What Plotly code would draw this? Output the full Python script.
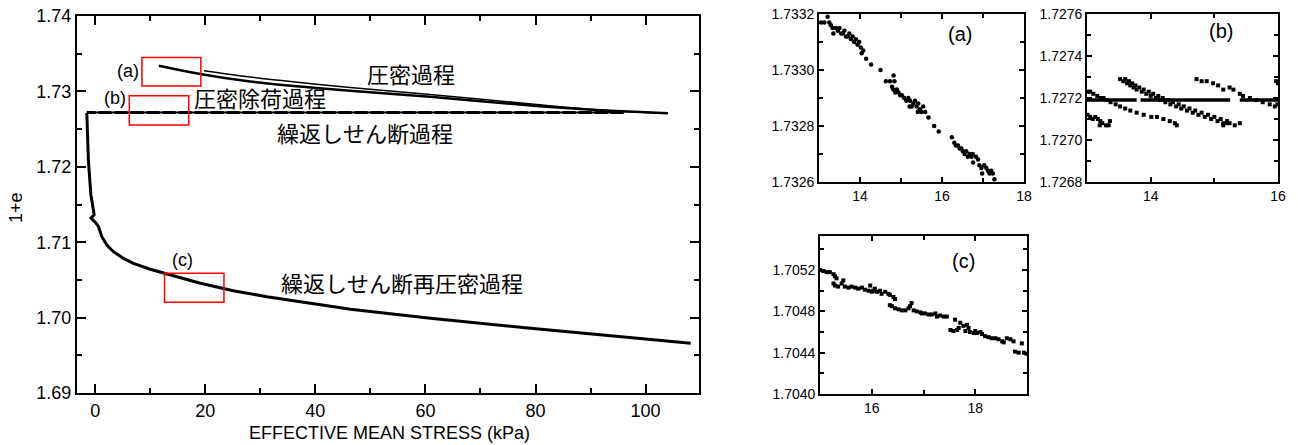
import plotly.graph_objects as go

# ---------------- main chart data ----------------
# consolidation (loading) curve
load_x = [11.57, 19.07, 28.15, 37.23, 46.31, 60.83, 80.21, 91.1, 104.04]
load_y = [1.73341, 1.73231, 1.73131, 1.73065, 1.73009, 1.72930, 1.72806, 1.72753, 1.72710]
# second consolidation line (slightly above)
unload_x = [19.79, 28.15, 37.23, 46.31, 60.83, 80.21, 91.7, 104.04]
unload_y = [1.73275, 1.73191, 1.73118, 1.73052, 1.72959, 1.72826, 1.72753, 1.72710]
# cyclic shear (constant volume)
shear_x = [96.0, -1.52]
shear_y = [1.7272, 1.7272]
# reconsolidation after cyclic shear
recon_x = [-1.52, -1.22, -0.78, -0.18, -0.75, 0.2, 0.6, 1.21, 2.12, 3.32, 5.14, 6.95, 9.99, 13.02,
           19.1, 25.1, 31.2, 46.4, 60.9, 79.1, 97.3, 108.2]
recon_y = [1.72714, 1.72072, 1.7163, 1.71365, 1.7132, 1.7125, 1.71206, 1.71073, 1.70963, 1.70874,
           1.70786, 1.70720, 1.70641, 1.70578, 1.70455, 1.70357, 1.70277, 1.70110, 1.69991, 1.69858,
           1.69739, 1.69659]

# zoom boxes (x0, x1, y0, y1) in data units of the main chart
box_names = ["(a)", "(b)", "(c)"]
box_x0 = [8.5, 6.2, 12.6]
box_x1 = [19.2, 17.0, 23.4]
box_y0 = [1.73073, 1.72555, 1.70204]
box_y1 = [1.73448, 1.72943, 1.70587]

# ---------------- inset (a) ----------------
a_x = [13.05, 13.13, 13.21, 13.25, 13.29, 13.33, 13.35, 13.41, 13.46, 13.50, 13.54, 13.58, 13.62, 13.66,
       13.70, 13.74, 13.78, 13.82, 13.86, 13.90, 13.94, 13.98, 14.02, 14.04, 14.08, 14.15, 14.27, 14.50,
       14.63, 14.73, 14.82, 14.84, 14.78, 14.81, 14.86, 14.90, 14.94, 14.98, 15.02, 15.08, 15.13, 15.18,
       15.22, 15.26, 15.21, 15.30, 15.34, 15.38, 15.42, 15.41, 15.46, 15.50, 15.54, 15.59, 15.67, 15.81,
       15.92, 16.24, 16.30, 16.34, 16.39, 16.43, 16.47, 16.51, 16.55, 16.59, 16.63, 16.67, 16.72, 16.75,
       16.76, 16.83, 16.88, 16.91, 16.96, 16.98, 17.03, 17.08, 17.12, 17.16, 17.20, 17.24, 17.28]
a_y = [1.73317, 1.73317, 1.73319, 1.73317, 1.73316, 1.73315, 1.73313, 1.73315, 1.73314, 1.73315, 1.73313,
       1.73313, 1.73314, 1.73312, 1.73312, 1.73313, 1.73311, 1.73312, 1.73310, 1.73311, 1.73309, 1.73310,
       1.73308, 1.73306, 1.73307, 1.73304, 1.73302, 1.73300, 1.73296, 1.73296, 1.73298, 1.73296, 1.73294,
       1.73293, 1.73292, 1.73293, 1.73292, 1.73291, 1.73291, 1.73290, 1.73289, 1.73290, 1.73289, 1.73287,
       1.73287, 1.73288, 1.73289, 1.73287, 1.73288, 1.73285, 1.73286, 1.73285, 1.73287, 1.73285, 1.73283,
       1.73280, 1.73278, 1.73276, 1.73274, 1.73273, 1.73273, 1.73272, 1.73272, 1.73271, 1.73270, 1.73271,
       1.73269, 1.73270, 1.73269, 1.73270, 1.73267, 1.73269, 1.73268, 1.73266, 1.73265, 1.73263, 1.73266,
       1.73265, 1.73264, 1.73263, 1.73264, 1.73263, 1.73261]

# ---------------- inset (b) ----------------
b_band_x = [13.0, 13.78, None, 13.84, 15.25, None, 15.40, 16.0]
b_band_y = [1.72719, 1.72719, None, 1.72719, 1.72719, None, 1.72719, 1.72719]
b_x = [13.52, 13.57, 13.60, 13.63, 13.66, 13.68, 13.71, 13.73, 13.76, 13.78, 13.82, 13.86, 13.89, 13.93,
       13.97, 14.00, 14.04, 14.08, 14.12, 14.15, 14.19, 14.23, 14.27, 14.31, 14.35, 14.40, 14.44, 14.48,
       14.52, 14.57, 14.61, 14.66, 14.70, 14.75, 14.80, 14.85, 14.90, 14.95, 15.00, 15.05, 15.10, 15.14,
       15.20, 15.24, 15.14, 15.19, 15.32, 15.40,
       14.72, 14.80, 14.88, 14.98, 15.06, 15.14, 15.24, 15.30, 15.40, 15.45, 15.56, 15.66, 15.76, 15.87,
       15.95, 15.97, 16.0, 15.99,
       13.02, 13.05, 13.10, 13.16, 13.21, 13.26, 13.31,
       13.37, 13.45, 13.52, 13.60, 13.68, 13.78, 13.89, 14.01, 14.10, 14.20, 14.30, 14.38, 14.41,
       13.01, 13.05, 13.09, 13.13, 13.17, 13.21, 13.24, 13.20, 13.30, 13.36, 13.34]
b_y = [1.72729, 1.72728, 1.72729, 1.72727, 1.72728, 1.72726, 1.72727, 1.72725, 1.72726, 1.72724, 1.72725,
       1.72723, 1.72724, 1.72722, 1.72723, 1.72721, 1.72722, 1.72720, 1.72721, 1.72719, 1.72720, 1.72718,
       1.72719, 1.72717, 1.72718, 1.72716, 1.72717, 1.72715, 1.72716, 1.72714, 1.72715, 1.72713, 1.72714,
       1.72712, 1.72713, 1.72711, 1.72712, 1.72710, 1.72711, 1.72709, 1.72710, 1.72708, 1.72709, 1.72708,
       1.72707, 1.72708, 1.72707, 1.72708,
       1.72729, 1.72728, 1.72728, 1.72727, 1.72726, 1.72724, 1.72725, 1.72724, 1.72722, 1.72721, 1.72720,
       1.72719, 1.72718, 1.72717, 1.72716, 1.72728, 1.72727, 1.72717,
       1.72723, 1.72723, 1.72722, 1.72721, 1.72720, 1.72720, 1.72719,
       1.72718, 1.72717, 1.72716, 1.72715, 1.72714, 1.72713, 1.72712, 1.72711, 1.72711, 1.72710, 1.72709,
       1.72708, 1.72707,
       1.72712, 1.72711, 1.72710, 1.72711, 1.72710, 1.72709, 1.72708, 1.72707, 1.72707, 1.72709, 1.72707]

# ---------------- inset (c) ----------------
c_x = [15.00, 15.065, 15.13, 15.19, 15.26, 15.29, 15.32, 15.26, 15.29, 15.35, 15.42, 15.45, 15.48, 15.55,
       15.61, 15.68, 15.74, 15.81, 15.87, 15.94, 15.97, 16.00, 16.03, 16.06, 16.10, 16.16, 16.19, 16.26,
       16.32, 16.35, 16.42, 16.45, 16.35, 16.39, 16.45, 16.52, 16.58, 16.65, 16.71, 16.74, 16.77, 16.81,
       16.87, 16.94, 16.97, 17.03, 17.10, 17.16, 17.23, 17.26, 17.32, 17.39, 17.45, 17.52, 17.58, 17.61,
       17.65, 17.68, 17.71, 17.77, 17.81, 17.84, 17.87, 17.90, 17.97, 18.00, 18.03, 18.10, 18.13, 18.19,
       18.26, 18.32, 18.39, 18.45, 18.52, 18.55, 18.61, 18.68, 18.74, 18.77, 18.84, 18.90, 18.94, 18.99]
c_y = [1.70520, 1.70519, 1.70518, 1.70518, 1.70516, 1.70514, 1.70512, 1.70507, 1.70505, 1.70504, 1.70507,
       1.70510, 1.70504, 1.70503, 1.70504, 1.70503, 1.70502, 1.70503, 1.70501, 1.70500, 1.70505, 1.70499,
       1.70500, 1.70502, 1.70499, 1.70500, 1.70497, 1.70499, 1.70497, 1.70496, 1.70494, 1.70492, 1.70486,
       1.70485, 1.70483, 1.70482, 1.70481, 1.70481, 1.70483, 1.70485, 1.70488, 1.70481, 1.70480, 1.70479,
       1.70478, 1.70478, 1.70477, 1.70477, 1.70478, 1.70475, 1.70476, 1.70475, 1.70475, 1.70462, 1.70461,
       1.70472, 1.70462, 1.70464, 1.70469, 1.70466, 1.70461, 1.70467, 1.70464, 1.70460, 1.70459, 1.70461,
       1.70459, 1.70460, 1.70458, 1.70456, 1.70455, 1.70454, 1.70454, 1.70453, 1.70451, 1.70450, 1.70454,
       1.70453, 1.70451, 1.70441, 1.70440, 1.70449, 1.70440, 1.70439]

# ---------------- text ----------------
main_xlabel = "EFFECTIVE MEAN STRESS (kPa)"
main_ylabel = "1+e"
phase_text = ["圧密過程", "圧密除荷過程", "繰返しせん断過程", "繰返しせん断再圧密過程"]
phase_x = [57.4, 30.0, 49.1, 55.8]
phase_y = [1.73240, 1.72930, 1.72458, 1.70476]
main_label_x = [6.0, 3.6, 15.9]
main_label_y = [1.73270, 1.72906, 1.70764]

FW, FH = 1298, 445


def PX(px):
    return px / FW


def PY(py):
    return 1 - py / FH


TICKFONT = dict(family="Liberation Sans, Arial, sans-serif", size=18, color="black")
SMALLFONT = dict(family="Liberation Sans, Arial, sans-serif", size=14, color="black")
CJK = dict(family="Noto Sans CJK JP, sans-serif", size=22, color="black")

fig = go.Figure()

# main traces
fig.add_trace(go.Scatter(x=load_x, y=load_y, mode="lines", line=dict(color="black", width=2.5, shape="spline"),
                         xaxis="x", yaxis="y"))
fig.add_trace(go.Scatter(x=unload_x, y=unload_y, mode="lines", line=dict(color="black", width=1.6, shape="spline"),
                         xaxis="x", yaxis="y"))
fig.add_trace(go.Scatter(x=shear_x, y=shear_y, mode="lines", line=dict(color="black", width=1.8),
                         xaxis="x", yaxis="y"))
fig.add_trace(go.Scatter(x=shear_x, y=shear_y, mode="lines",
                         line=dict(color="black", width=3.2, dash="13px,3px"), xaxis="x", yaxis="y"))
fig.add_trace(go.Scatter(x=recon_x, y=recon_y, mode="lines", line=dict(color="black", width=3),
                         xaxis="x", yaxis="y"))

# insets
fig.add_trace(go.Scatter(x=a_x, y=a_y, mode="markers", marker=dict(color="black", size=4.5, symbol="circle"),
                         xaxis="x2", yaxis="y2"))
fig.add_trace(go.Scatter(x=b_band_x, y=b_band_y, mode="lines", line=dict(color="black", width=3.5),
                         xaxis="x3", yaxis="y3"))
fig.add_trace(go.Scatter(x=b_x, y=b_y, mode="markers", marker=dict(color="black", size=4, symbol="square"),
                         xaxis="x3", yaxis="y3"))
fig.add_trace(go.Scatter(x=c_x, y=c_y, mode="markers", marker=dict(color="black", size=4, symbol="square"),
                         xaxis="x4", yaxis="y4"))


def ax(domain, rng, dtick, minor_dtick, font, anchor, fmt=None, ticklen=9, mticklen=5, lw=2):
    d = dict(domain=domain, range=rng, dtick=dtick, tick0=0, anchor=anchor, automargin=False,
             showline=True, linecolor="black", linewidth=lw, mirror="ticks",
             ticks="inside", ticklen=ticklen, tickwidth=1.5, tickcolor="black",
             showgrid=False, zeroline=False, tickfont=font, ticklabeloverflow="allow",
             minor=dict(dtick=minor_dtick, ticks="inside", ticklen=mticklen, tickwidth=1.5,
                        tickcolor="black", showgrid=False))
    if fmt:
        d["tickformat"] = fmt
    return d


fig.update_layout(
    template="none",
    width=FW, height=FH, margin=dict(l=0, r=0, t=0, b=0, pad=0), autosize=False,
    paper_bgcolor="white", plot_bgcolor="white", showlegend=False,
    xaxis=ax([PX(77), PX(699)], [-3.3, 109.7], 20, 10, TICKFONT, "y"),
    yaxis=ax([PY(393), PY(16)], [1.69, 1.74], 0.01, 0.005, TICKFONT, "x", ".2f"),
    xaxis2=ax([PX(819), PX(1024)], [13, 18], 2, 1, SMALLFONT, "y2", None, 5, 4, 1.8),
    yaxis2=ax([PY(182), PY(14)], [1.7326, 1.7332], 0.0002, 0.0001, SMALLFONT, "x2", ".4f", 5, 4, 1.8),
    xaxis3=ax([PX(1087), PX(1278)], [13, 16], 2, 1, SMALLFONT, "y3", None, 5, 4, 1.8),
    yaxis3=ax([PY(182), PY(14)], [1.7268, 1.7276], 0.0002, 0.0001, SMALLFONT, "x3", ".4f", 5, 4, 1.8),
    xaxis4=ax([PX(820), PX(1027)], [15, 19], 2, 1, SMALLFONT, "y4", None, 5, 4, 1.8),
    yaxis4=ax([PY(394), PY(236)], [1.7040, 1.70553], 0.0004, 0.0002, SMALLFONT, "x4", ".4f", 5, 4, 1.8),
)

# red boxes
for i in range(len(box_names)):
    fig.add_shape(type="rect", xref="x", yref="y", x0=box_x0[i], x1=box_x1[i], y0=box_y0[i], y1=box_y1[i],
                  line=dict(color="red", width=1.5))

ann = []
for t, x, y in zip(phase_text, phase_x, phase_y):
    ann.append(dict(text=t, x=x, y=y, xref="x", yref="y", showarrow=False, font=CJK,
                    xanchor="center", yanchor="middle"))
for t, x, y in zip(box_names, main_label_x, main_label_y):
    ann.append(dict(text=t, x=x, y=y, xref="x", yref="y", showarrow=False, xanchor="center", yanchor="middle",
                    font=dict(family="Liberation Sans, Arial", size=18, color="black")))
# inset labels
LBL = dict(family="Liberation Sans, Arial", size=20, color="black")
ann.append(dict(text="(a)", x=16.44, y=1.73313, xref="x2", yref="y2", showarrow=False, font=LBL,
                xanchor="center", yanchor="middle"))
ann.append(dict(text="(b)", x=15.11, y=1.72752, xref="x3", yref="y3", showarrow=False, font=LBL,
                xanchor="center", yanchor="middle"))
ann.append(dict(text="(c)", x=17.77, y=1.70529, xref="x4", yref="y4", showarrow=False, font=LBL,
                xanchor="center", yanchor="middle"))
# axis titles
ann.append(dict(text=main_xlabel, x=PX(389), y=PY(433), xref="paper", yref="paper", showarrow=False,
                xanchor="center", yanchor="middle",
                font=dict(family="Liberation Sans, Arial", size=18, color="black")))
ann.append(dict(text=main_ylabel, x=PX(16), y=PY(208), xref="paper", yref="paper", showarrow=False,
                xanchor="center", yanchor="middle",
                textangle=-90, font=dict(family="Liberation Sans, Arial", size=18, color="black")))
fig.update_layout(annotations=ann)

# remove the browser's default body margin so the figure fills the 1298x445 window exactly
fig.write_html("out.html", config={"displayModeBar": False},
               post_script="document.body.style.margin='0px';")
